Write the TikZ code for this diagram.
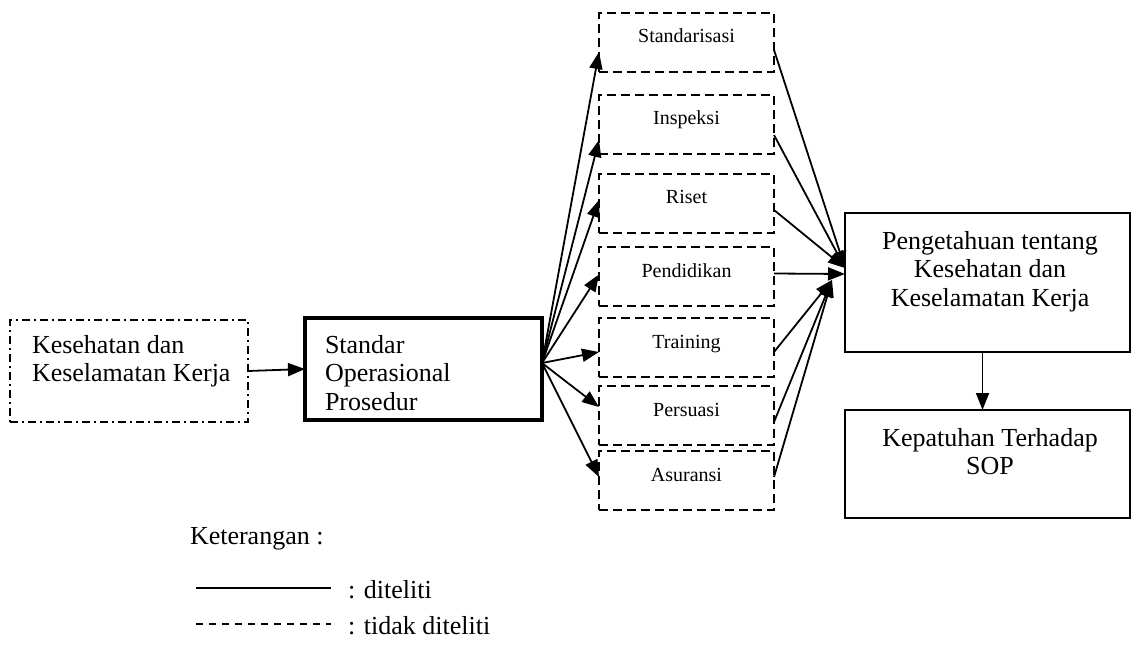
\documentclass[tikz,border=0pt]{standalone}
\usepackage{fontspec}
\setmainfont{Liberation Serif}
\usetikzlibrary{arrows.meta,calc}
\begin{document}
\begin{tikzpicture}[x=1pt,y=-1pt,
  every node/.style={inner sep=0pt,outer sep=0pt},
  bigtxt/.style={font=\fontsize{26}{28.5}\selectfont},
  smalltxt/.style={font=\fontsize{20}{23}\selectfont,anchor=base},
  legtxt/.style={font=\fontsize{26}{30}\selectfont,anchor=base west},
  sbox/.style={draw,line width=1.8pt,dash pattern=on 9pt off 5pt,minimum width=175pt,minimum height=59pt,anchor=north west},
  solidbox/.style={draw,line width=1.8pt,anchor=north west},
  arr/.style={line width=1.8pt,-{Triangle[length=17pt,width=13pt]}},
  con/.style={line width=1.8pt}
]
\path[fill=white,use as bounding box] (0,0) rectangle (1132,652);

% left boxes
\node[draw,line width=1.8pt,dash pattern=on 8pt off 4pt on 2pt off 4pt,minimum width=238pt,minimum height=102pt,anchor=north west] (k3) at (10,320) {};
\node[bigtxt,align=left,anchor=north west] (k3t) at (32,335) {Kesehatan dan\\Keselamatan Kerja};

\node[draw,line width=4pt,minimum width=237pt,minimum height=102pt,anchor=north west] (sop) at (305,318) {};
\node[bigtxt,align=left,anchor=north west] (sopt) at (325,335) {Standar\\Operasional\\Prosedur};

% small dashed boxes
\node[sbox] (s1) at (599,13) {};
\node[sbox] (s2) at (599,95) {};
\node[sbox] (s3) at (599,174) {};
\node[sbox] (s4) at (599,247) {};
\node[sbox] (s5) at (599,318) {};
\node[sbox] (s6) at (599,386) {};
\node[sbox] (s7) at (599,451) {};
\node[smalltxt] (t1) at ([yshift=-30pt]s1.north) {Standarisasi};
\node[smalltxt] (t2) at ([yshift=-30pt]s2.north) {Inspeksi};
\node[smalltxt] (t3) at ([yshift=-30pt]s3.north) {Riset};
\node[smalltxt] (t4) at ([yshift=-30pt]s4.north) {Pendidikan};
\node[smalltxt] (t5) at ([yshift=-30pt]s5.north) {Training};
\node[smalltxt] (t6) at ([yshift=-30pt]s6.north) {Persuasi};
\node[smalltxt] (t7) at ([yshift=-30pt]s7.north) {Asuransi};

% right boxes
\node[solidbox,minimum width=285pt,minimum height=139pt] (pk) at (845,213) {};
\node[bigtxt,align=center,anchor=north] (pkt) at (990,231) {Pengetahuan tentang\\Kesehatan dan\\Keselamatan Kerja};
\node[solidbox,minimum width=285pt,minimum height=108pt] (kp) at (845,410) {};
\node[bigtxt,align=center,anchor=north] (kpt) at (990,428) {Kepatuhan Terhadap\\SOP};

% connectors
\draw[arr] (k3.east) -- (sop.west);
\coordinate (fan) at ([yshift=6pt]sop.east);
\draw[arr] (fan) -- ([yshift=-9.5pt]s1.west);
\draw[arr] (fan) -- ([yshift=-15.5pt]s2.west);
\draw[arr] (fan) -- ([yshift=3.5pt]s3.west);
\draw[arr] (fan) -- ([yshift=2pt]s4.west);
\draw[arr] (fan) -- ([yshift=-4.5pt]s5.west);
\draw[arr] (fan) -- ([yshift=8.5pt]s6.west);
\draw[arr] (fan) -- ([yshift=3.5pt]s7.west);

\coordinate (c1) at ([yshift=14.5pt]pk.west);
\coordinate (c3) at ([xshift=-13pt,yshift=2.5pt]pk.west);
\draw[arr] ([yshift=-7.5pt]s1.east) -- (c1);
\draw[arr] ([yshift=-10.5pt]s2.east) -- (c1);
\draw[arr] ([yshift=-6.5pt]s3.east) -- (c1);
\draw[arr] ([yshift=3pt]s4.east) -- ([yshift=8.5pt]pk.west);
\draw[arr] ([yshift=-4.5pt]s5.east) -- (c3);
\draw[arr] ([yshift=-6.5pt]s6.east) -- (c3);
\draw[arr] ([yshift=3.5pt]s7.east) -- (c3);

\draw[arr] ([xshift=-5pt]pk.south) -- ([xshift=-5pt]kp.north);

% legend
\node[legtxt] (ket) at (190,544) {Keterangan :};
\coordinate (l1a) at (196,588);
\coordinate (l1b) at (331,588);
\draw[con] (l1a) -- (l1b);
\node[legtxt] (l1t) at (348,598) {: diteliti};
\coordinate (l2a) at (196,624);
\coordinate (l2b) at (331,624);
\draw[line width=1.2pt,dash pattern=on 7pt off 6pt] (l2a) -- (l2b);
\node[legtxt] (l2t) at (348,634) {: tidak diteliti};
\end{tikzpicture}
\end{document}
